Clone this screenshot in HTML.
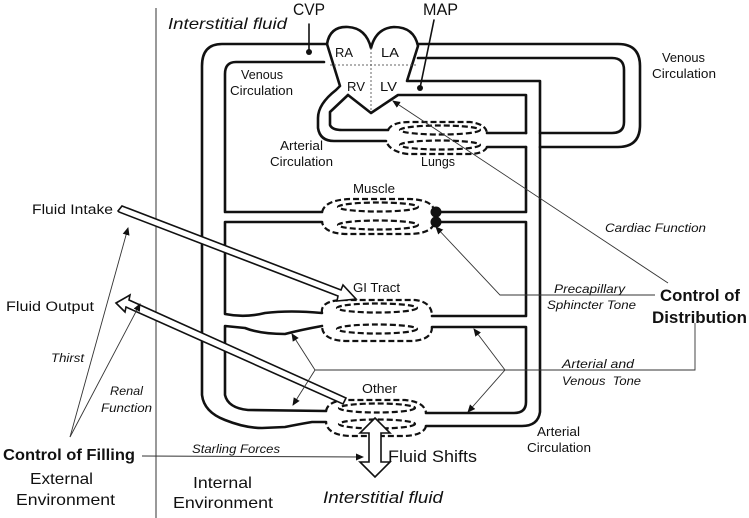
<!DOCTYPE html>
<html><head><meta charset="utf-8"><style>
html,body{margin:0;padding:0;background:#fff;}
svg{display:block;}
text{font-family:"Liberation Sans",sans-serif;fill:#111;}
.i{font-style:italic;}
.b{font-weight:bold;}
</style></head><body>
<svg width="749" height="518" viewBox="0 0 749 518" xmlns="http://www.w3.org/2000/svg">
<defs>
<marker id="a" markerWidth="8" markerHeight="8" refX="7" refY="4" orient="auto" markerUnits="userSpaceOnUse">
<path d="M0,0.5 L8,4 L0,7.5 Z" fill="#111"/></marker>
</defs>
<line x1="156" y1="8" x2="156" y2="518" stroke="#333" stroke-width="1"/>
<g fill="none" stroke="#111" stroke-width="2.6" stroke-linejoin="round" stroke-linecap="round">
<path d="M327,44 L222,44 Q202,44 202,66 L202,395 Q204,412 225,420 Q245,428 262,428 L285,427 Q300,424 312,422 L326,422"/>
<path d="M324,62 L236,62 Q225,62 225,74 L225,212 L322,212"/>
<path d="M322,222 L225,222 L225,314 Q245,318 265,313 Q290,310 322,313"/>
<path d="M322,326 Q300,330 285,334 Q260,334 245,328 L225,326 L225,395 Q228,408 248,410 L326,411"/>
<path d="M327,44 Q330,26 348,27 Q366,28 371,48 Q376,28 394,27 Q414,27 418,46 L407,81 L540,81 Q540,81 540,90 L540,412 Q538,426 522,426 L426,426"/>
<path d="M327,44 L340,86 L336,90 Q318,104 318,118 L318,128 Q320,141 334,141 L386,141"/>
<path d="M348,95 L330,112 L330,125 Q332,130 342,130 L388,130"/>
<path d="M348,95 L371,113 L398,95 L526,95 L526,133"/>
<path d="M418,44 L618,44 Q640,44 640,66 L640,125 Q640,147 618,147 L540,147"/>
<path d="M418,58 L612,58 Q624,58 624,70 L624,122 Q624,133 612,133 L540,133"/>
<path d="M487,133 L526,133 M487,147 L526,147"/>
<path d="M526,147 L526,212 L436,212"/>
<path d="M436,222 L526,222 L526,316 L432,316"/>
<path d="M432,327 L526,327 L526,402 Q526,413 514,413 L426,413"/>
<line x1="309" y1="24" x2="309" y2="52" stroke-width="1.6"/>
<line x1="434" y1="20" x2="420" y2="88" stroke-width="1.6"/>
</g>
<circle cx="309" cy="52" r="3" fill="#111"/>
<circle cx="420" cy="88" r="3" fill="#111"/>
<circle cx="436" cy="212" r="5.5" fill="#111"/>
<circle cx="436" cy="222" r="5.5" fill="#111"/>
<g stroke="#666" stroke-width="1" stroke-dasharray="2,2">
<line x1="330" y1="65" x2="417" y2="65"/><line x1="371" y1="48" x2="371" y2="112"/>
</g>
<g fill="none" stroke="#111" stroke-width="2.2" stroke-dasharray="6,3">
<path d="M388,130 Q392,122 410,122 L470,122 Q486,124 487,133 M487,147 Q484,154 468,154 L408,154 Q390,152 386,141"/>
<ellipse cx="440" cy="130" rx="40" ry="4.5"/><ellipse cx="440" cy="145" rx="40" ry="4.5"/>
<path d="M322,212 Q325,200 350,199 L410,199 Q432,200 434,210 M434,224 Q430,234 408,234 L345,234 Q324,233 322,222"/>
<ellipse cx="378" cy="207" rx="40" ry="4.5"/><ellipse cx="378" cy="225" rx="40" ry="4.5"/>
<path d="M322,313 Q320,300 345,300 L415,300 Q432,302 432,316 M432,327 Q432,340 412,341 L345,341 Q322,340 322,326"/>
<ellipse cx="377" cy="308" rx="40" ry="4.5"/><ellipse cx="377" cy="329" rx="40" ry="4.5"/>
<path d="M326,411 Q328,400 350,400 L405,400 Q425,402 426,413 M426,426 Q424,435 405,436 L350,436 Q327,435 326,422"/>
<ellipse cx="377" cy="408" rx="38" ry="4.5"/><ellipse cx="377" cy="424" rx="38" ry="4.5"/>
</g>
<g fill="#fff" stroke="#111" stroke-width="1.6" stroke-linejoin="miter">
<path d="M118,211 L122,206 L341,290 L343,285 L356,299 L337,301 L338,296 L119,212 Z"/>
<path d="M116,303 L130,295 L129,300 L346,398 L343,404 L126,307 L125,312 Z"/>
<path d="M375,418 L390,433 L381,433 L381,462 L390,462 L375,477 L360,462 L369,462 L369,433 L360,433 Z"/>
</g>
<g stroke="#333" stroke-width="0.9" fill="none">
<line x1="70" y1="437" x2="128" y2="228" marker-end="url(#a)"/>
<line x1="70" y1="437" x2="140" y2="304" marker-end="url(#a)"/>
<line x1="142" y1="456" x2="363" y2="457" marker-end="url(#a)"/>
<line x1="668" y1="283" x2="393" y2="101" marker-end="url(#a)"/>
<polyline points="655,295 500,295 436,227" marker-end="url(#a)"/>
<polyline points="695,323 695,370 315,370"/>
<line x1="315" y1="370" x2="292" y2="334" marker-end="url(#a)"/>
<line x1="315" y1="370" x2="293" y2="405" marker-end="url(#a)"/>
<line x1="505" y1="370" x2="474" y2="329" marker-end="url(#a)"/>
<line x1="505" y1="370" x2="468" y2="412" marker-end="url(#a)"/>
</g>
<g>
<text x="168" y="29" font-size="16" class="i" textLength="119" lengthAdjust="spacingAndGlyphs">Interstitial fluid</text>
<text x="293" y="15" font-size="17" textLength="32" lengthAdjust="spacingAndGlyphs">CVP</text>
<text x="423" y="15" font-size="17" textLength="35" lengthAdjust="spacingAndGlyphs">MAP</text>
<text x="335" y="57" font-size="13" textLength="18" lengthAdjust="spacingAndGlyphs">RA</text>
<text x="381" y="57" font-size="13" textLength="18" lengthAdjust="spacingAndGlyphs">LA</text>
<text x="347" y="91" font-size="13" textLength="18" lengthAdjust="spacingAndGlyphs">RV</text>
<text x="380" y="91" font-size="13" textLength="17" lengthAdjust="spacingAndGlyphs">LV</text>
<text x="241" y="79" font-size="12.5" textLength="42" lengthAdjust="spacingAndGlyphs">Venous</text>
<text x="230" y="95" font-size="12.5" textLength="63" lengthAdjust="spacingAndGlyphs">Circulation</text>
<text x="662" y="62" font-size="12.5" textLength="43" lengthAdjust="spacingAndGlyphs">Venous</text>
<text x="652" y="78" font-size="12.5" textLength="64" lengthAdjust="spacingAndGlyphs">Circulation</text>
<text x="280" y="150" font-size="12.5" textLength="43" lengthAdjust="spacingAndGlyphs">Arterial</text>
<text x="270" y="166" font-size="12.5" textLength="63" lengthAdjust="spacingAndGlyphs">Circulation</text>
<text x="421" y="166" font-size="12.5" textLength="34" lengthAdjust="spacingAndGlyphs">Lungs</text>
<text x="353" y="193" font-size="12.5" textLength="42" lengthAdjust="spacingAndGlyphs">Muscle</text>
<text x="353" y="292" font-size="12.5" textLength="47" lengthAdjust="spacingAndGlyphs">GI Tract</text>
<text x="362" y="393" font-size="12.5" textLength="35" lengthAdjust="spacingAndGlyphs">Other</text>
<text x="537" y="436" font-size="12.5" textLength="43" lengthAdjust="spacingAndGlyphs">Arterial</text>
<text x="527" y="452" font-size="12.5" textLength="64" lengthAdjust="spacingAndGlyphs">Circulation</text>
<text x="605" y="232" font-size="12" class="i" textLength="101" lengthAdjust="spacingAndGlyphs">Cardiac Function</text>
<text x="554" y="293" font-size="12" class="i" textLength="71" lengthAdjust="spacingAndGlyphs">Precapillary</text>
<text x="547" y="309" font-size="12" class="i" textLength="89" lengthAdjust="spacingAndGlyphs">Sphincter Tone</text>
<text x="660" y="301" font-size="17" class="b" textLength="80" lengthAdjust="spacingAndGlyphs">Control of</text>
<text x="652" y="323" font-size="17" class="b" textLength="95" lengthAdjust="spacingAndGlyphs">Distribution</text>
<text x="562" y="368" font-size="12" class="i" textLength="72" lengthAdjust="spacingAndGlyphs">Arterial and</text>
<text x="562" y="385" font-size="12" class="i" textLength="79" lengthAdjust="spacingAndGlyphs">Venous&#160; Tone</text>
<text x="192" y="453" font-size="11.5" class="i" textLength="88" lengthAdjust="spacingAndGlyphs">Starling Forces</text>
<text x="388" y="462" font-size="17" textLength="89" lengthAdjust="spacingAndGlyphs">Fluid Shifts</text>
<text x="323" y="503" font-size="17" class="i" textLength="120" lengthAdjust="spacingAndGlyphs">Interstitial fluid</text>
<text x="3" y="460" font-size="16" class="b" textLength="132" lengthAdjust="spacingAndGlyphs">Control of Filling</text>
<text x="30" y="484" font-size="16" textLength="63" lengthAdjust="spacingAndGlyphs">External</text>
<text x="16" y="505" font-size="16" textLength="99" lengthAdjust="spacingAndGlyphs">Environment</text>
<text x="193" y="488" font-size="16" textLength="59" lengthAdjust="spacingAndGlyphs">Internal</text>
<text x="173" y="508" font-size="16" textLength="100" lengthAdjust="spacingAndGlyphs">Environment</text>
<text x="32" y="214" font-size="13.5" textLength="81" lengthAdjust="spacingAndGlyphs">Fluid Intake</text>
<text x="6" y="311" font-size="13.5" textLength="88" lengthAdjust="spacingAndGlyphs">Fluid Output</text>
<text x="51" y="362" font-size="11.5" class="i" textLength="33" lengthAdjust="spacingAndGlyphs">Thirst</text>
<text x="110" y="395" font-size="11.5" class="i" textLength="33" lengthAdjust="spacingAndGlyphs">Renal</text>
<text x="101" y="412" font-size="11.5" class="i" textLength="51" lengthAdjust="spacingAndGlyphs">Function</text>
</g>
</svg>
</body></html>
